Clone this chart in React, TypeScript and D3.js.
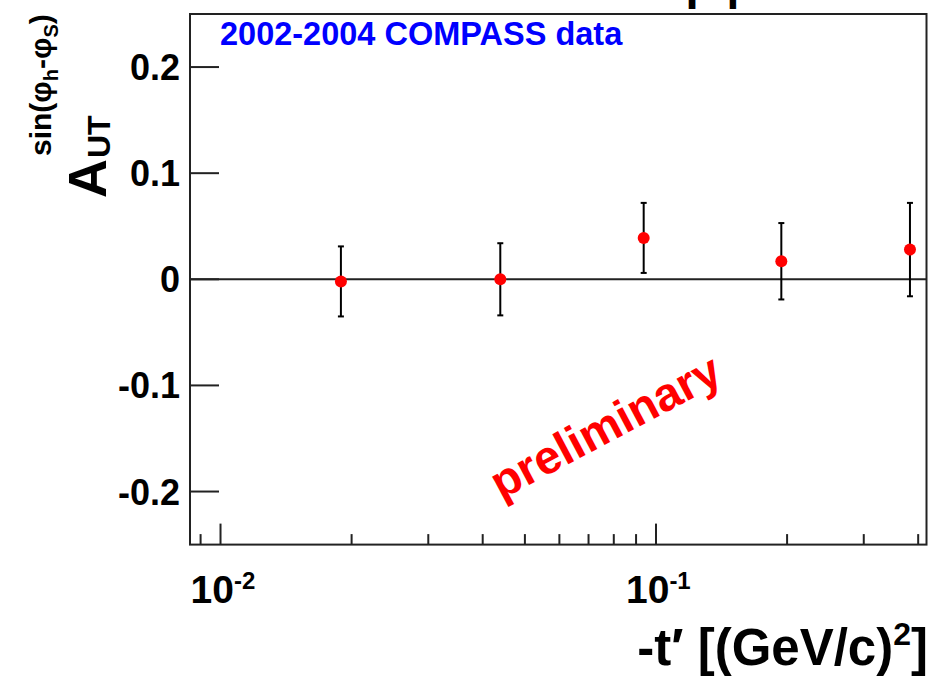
import React from "react";
import * as d3 from "d3";

// -t' bin centres [(GeV/c)^2]
const tPrime = [0.0189, 0.0439, 0.0937, 0.194, 0.383];
// A_UT^{sin(phi_h - phi_S)} asymmetry and statistical error
const asym = [-0.002, 0.0, 0.039, 0.017, 0.028];
const asymErr = [0.033, 0.034, 0.033, 0.036, 0.044];

const yTicks = [-0.2, -0.1, 0, 0.1, 0.2];
const yTickLabels = ["-0.2", "-0.1", "0", "0.1", "0.2"];
const xMajorTicks = [0.01, 0.1];
const xMajorExp = ["-2", "-1"];
const xMinorTicks = [0.009, 0.02, 0.03, 0.04, 0.05, 0.06, 0.07, 0.08, 0.09, 0.2, 0.3, 0.4];

const W = 933;
const H = 679;
const frame = { left: 190, right: 926.5, top: 14, bottom: 544.6 };
const FONT = "'Liberation Sans', Arial, Helvetica, sans-serif";
const AXIS = "#222";

export default function App() {
  const x = d3.scaleLog().domain([0.00851, 0.418]).range([frame.left, frame.right]);
  const y = d3.scaleLinear().domain([-0.25, 0.25]).range([frame.bottom, frame.top]);

  const points = tPrime.map((t, i) => ({ t, v: asym[i], e: asymErr[i] }));

  return (
    <svg
      width={W}
      height={H}
      viewBox={`0 0 ${W} ${H}`}
      style={{ position: "absolute", left: 0, top: 0, background: "#fff" }}
      fontFamily={FONT}
    >
      <rect x={0} y={0} width={W} height={H} fill="#fff" />

      {/* title, clipped at the top of the canvas */}
      <text x={686} y={-1} fontSize={46} fontWeight="bold" fill="#000">
        ρ<tspan dx={12}>p</tspan>
      </text>

      {/* zero line */}
      <line x1={frame.left} x2={frame.right} y1={y(0)} y2={y(0)} stroke={AXIS} strokeWidth={2} />

      {/* frame */}
      <rect
        x={frame.left}
        y={frame.top}
        width={frame.right - frame.left}
        height={frame.bottom - frame.top}
        fill="none"
        stroke={AXIS}
        strokeWidth={2}
      />

      {/* y axis ticks and labels */}
      {yTicks.map((v, i) => (
        <g key={"y" + i}>
          <line x1={frame.left} x2={frame.left + 29} y1={y(v)} y2={y(v)} stroke={AXIS} strokeWidth={2} />
          <text
            x={frame.left - 10}
            y={y(v) + 13}
            textAnchor="end"
            fontSize={36}
            fontWeight="bold"
            fill="#000"
          >
            {yTickLabels[i]}
          </text>
        </g>
      ))}

      {/* x axis ticks */}
      {xMinorTicks.map((t, i) => (
        <line
          key={"xm" + i}
          x1={x(t)}
          x2={x(t)}
          y1={frame.bottom}
          y2={frame.bottom - 10.5}
          stroke={AXIS}
          strokeWidth={2}
        />
      ))}
      {xMajorTicks.map((t, i) => (
        <g key={"xM" + i}>
          <line x1={x(t)} x2={x(t)} y1={frame.bottom} y2={frame.bottom - 21} stroke={AXIS} strokeWidth={2} />
          <text x={x(t) - 30} y={603} fontSize={39} fontWeight="bold" fill="#000">
            10
            <tspan dy={-14} fontSize={24}>
              {xMajorExp[i]}
            </tspan>
          </text>
        </g>
      ))}

      {/* error bars */}
      {points.map((p, i) => (
        <g key={"e" + i} stroke="#000" strokeWidth={2}>
          <line x1={x(p.t)} x2={x(p.t)} y1={y(p.v + p.e)} y2={y(p.v - p.e)} />
          <line x1={x(p.t) - 3} x2={x(p.t) + 3} y1={y(p.v + p.e)} y2={y(p.v + p.e)} />
          <line x1={x(p.t) - 3} x2={x(p.t) + 3} y1={y(p.v - p.e)} y2={y(p.v - p.e)} />
        </g>
      ))}

      {/* markers */}
      {points.map((p, i) => (
        <circle key={"m" + i} cx={x(p.t)} cy={y(p.v)} r={6} fill="#ff0000" />
      ))}

      {/* dataset label */}
      <text x={220} y={45} fontSize={32.5} fontWeight="bold" fill="#0000ff">
        2002-2004 COMPASS data
      </text>

      {/* preliminary stamp */}
      <text
        transform="translate(501,500) rotate(-28)"
        fontSize={47}
        fontWeight="bold"
        fill="#ff0000"
      >
        preliminary
      </text>

      {/* y axis title: A with sub- and superscript starting at the same place */}
      <g transform="translate(106,198) rotate(-90)">
        <text x={0} y={0} fontSize={54} fontWeight="bold" fill="#000">
          A
        </text>
        <text x={40} y={4} fontSize={32} fontWeight="bold" fill="#000">
          UT
        </text>
        <text x={42} y={-55} fontSize={30} fontWeight="bold" fill="#000">
          sin(φ
          <tspan dy={7} fontSize={20}>h</tspan>
          <tspan dy={-7}>-φ</tspan>
          <tspan dy={7} fontSize={20}>S</tspan>
          <tspan dy={-7}>)</tspan>
        </text>
      </g>

      {/* x axis title */}
      <text x={928} y={665} textAnchor="end" fontSize={51} fontWeight="bold" fill="#000">
        -t′ [(GeV/c)
        <tspan dy={-20} fontSize={32}>2</tspan>
        <tspan dy={20}>]</tspan>
      </text>
    </svg>
  );
}
